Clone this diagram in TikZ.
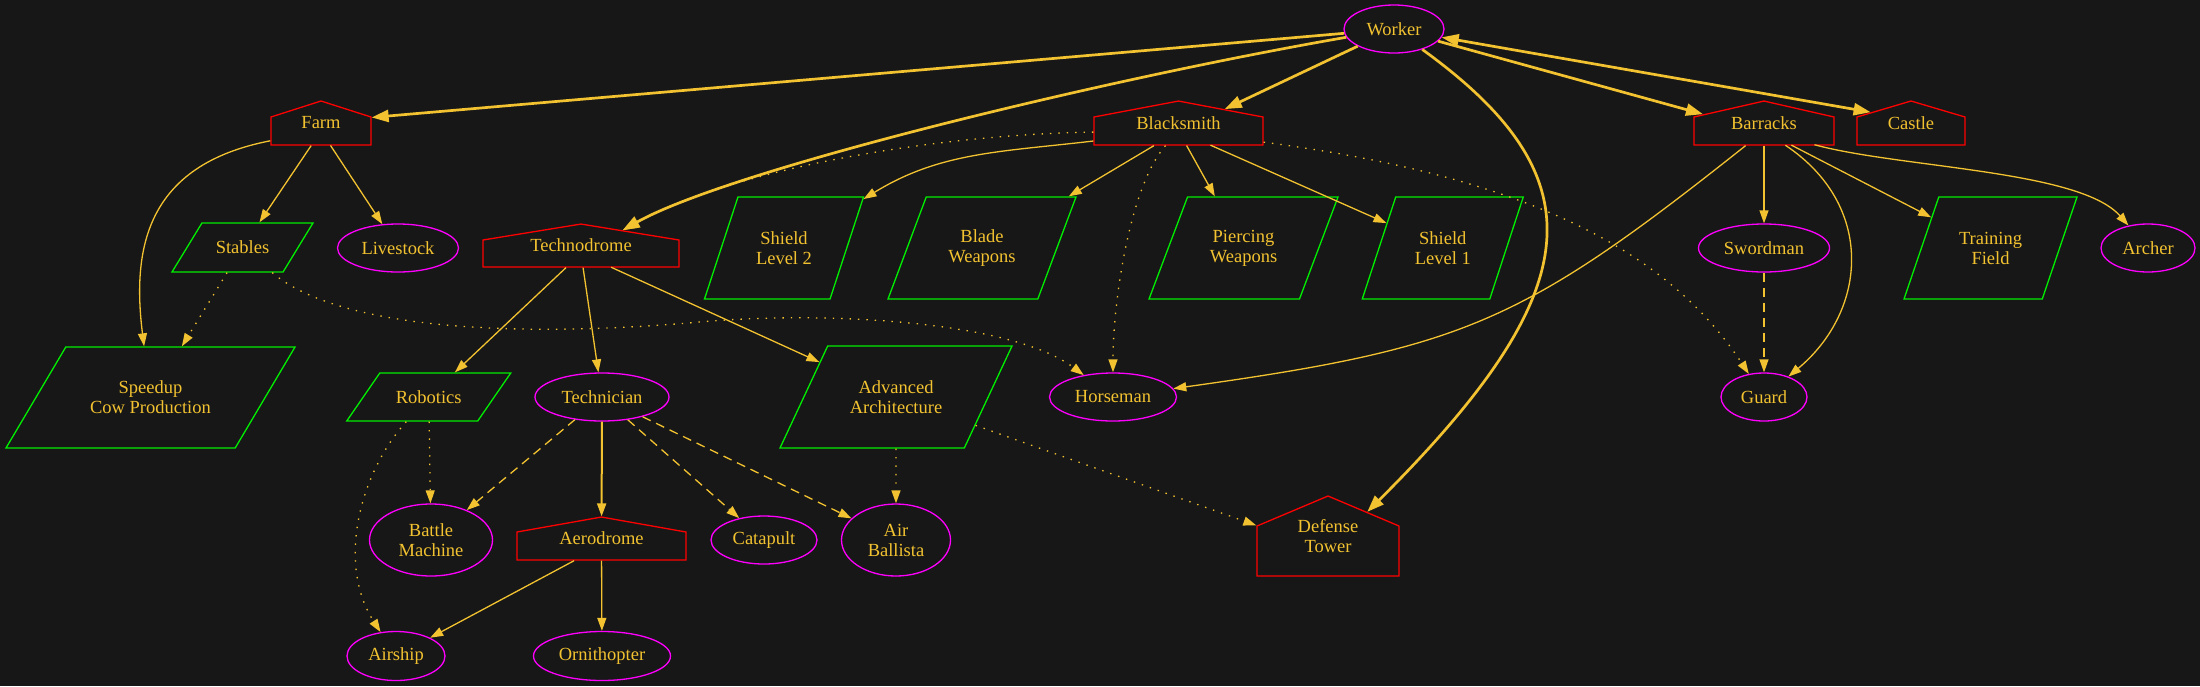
\documentclass[tikz,border=0pt]{standalone}
\usepackage{fontspec}
\setmainfont{Liberation Serif}
\usetikzlibrary{shapes.geometric,shapes.symbols,arrows.meta}
\definecolor{bg}{HTML}{171717}
\definecolor{gold}{HTML}{F2C230}
\definecolor{housered}{HTML}{FF0000}
\definecolor{unitmag}{HTML}{FF00FF}
\definecolor{upgreen}{HTML}{00EE00}
\tikzset{
  gv/.tip={Triangle[length=13pt,width=9pt]},
  gvbig/.tip={Triangle[length=17pt,width=12pt]},
  every node/.style={text=gold, font=\fontsize{18.5}{20}\selectfont, align=center, line width=1.3pt, inner sep=0pt},
  unit/.style={ellipse, draw=unitmag, minimum height=48pt},
  house/.style n args={3}{signal, signal to=north, draw=housered, minimum width=#1, minimum height=#2, signal pointer angle=#3},
  upgrade/.style n args={4}{trapezium, trapezium left angle=#3, trapezium right angle=#4, trapezium stretches body, draw=upgreen, minimum width=#1, minimum height=#2},
  link/.style={draw=gold, line width=1.3pt, -gv},
  midlink/.style={link, line width=2pt},
  heavylink/.style={link, line width=2.7pt, -gvbig},
  dotlink/.style={link, dash pattern=on 1.4pt off 7pt},
  dashlink/.style={link, dash pattern=on 9pt off 6pt},
}

\begin{document}
\begin{tikzpicture}[x=1pt, y=-1pt] % px grid, y down
\fill[bg] (0,0) rectangle (2200,686);
\useasboundingbox (0,0) rectangle (2200,686);

\node[unit, minimum width=100pt] (worker) at (1394,29) {Worker};

\node[house={100pt}{28pt}{144.5}, label={[yshift=8pt]center:Farm}] (farm) at (321,131) {};
\node[house={169pt}{28pt}{158.6}, label={[yshift=8pt]center:Blacksmith}] (blacksmith) at (1178.5,131) {};
\node[house={140pt}{28pt}{154.3}, label={[yshift=8pt]center:Barracks}] (barracks) at (1764,131) {};
\node[house={108pt}{28pt}{147}, label={[yshift=8pt]center:Castle}] (castle) at (1911,131) {};
\node[house={196pt}{27pt}{161.5}, label={[yshift=8pt]center:Technodrome}] (techno) at (581,253.5) {};
\node[house={169pt}{28pt}{159.9}, label={[yshift=7.5pt]center:Aerodrome}] (aerodrome) at (601.5,546) {};
\node[house={142pt}{50pt}{134.2}, label={[yshift=15pt, align=center]center:Defense\\Tower}] (tower) at (1328,551) {};

% slant set by text height
\node[upgrade={141pt}{49pt}{23.5}{156.5}] (stables) at (242.5,247.5) {Stables};
\node[upgrade={289pt}{101pt}{28.9}{151.1}] (speedup) at (150.5,397.5) {Speedup\\Cow Production};
\node[upgrade={159pt}{102pt}{44.6}{135.4}] (shieldtwo) at (784,248) {Shield\\Level 2};
\node[upgrade={188pt}{102pt}{43.9}{136.1}] (blade) at (982,248) {Blade\\Weapons};
\node[upgrade={189pt}{102pt}{43.2}{136.8}] (piercing) at (1243.5,248) {Piercing\\Weapons};
\node[upgrade={161pt}{102pt}{44.6}{135.4}] (shieldone) at (1442.75,248) {Shield\\Level 1};
\node[upgrade={173pt}{102pt}{43}{137}] (training) at (1990.5,248) {Training\\Field};
\node[upgrade={164pt}{48pt}{21.5}{158.5}] (robotics) at (428.75,397) {Robotics};
\node[upgrade={232pt}{102pt}{34.7}{145.3}] (advarch) at (896,397) {Advanced\\Architecture};

\node[unit, minimum width=121pt] (livestock) at (398,248) {Livestock};
\node[unit, minimum width=131pt] (swordman) at (1764,248) {Swordman};
\node[unit, minimum width=94pt] (archer) at (2148,248) {Archer};
\node[unit, minimum width=86pt] (guard) at (1764,397) {Guard};
\node[unit, minimum width=127pt] (horseman) at (1113,397) {Horseman};
\node[unit, minimum width=134pt] (technician) at (602,397) {Technician};
\node[unit, minimum width=123pt, minimum height=72pt] (battle) at (431,540) {Battle\\Machine};
\node[unit, minimum width=106pt] (catapult) at (764,540) {Catapult};
\node[unit, minimum width=109pt, minimum height=72pt] (ballista) at (896,540) {Air\\Ballista};
\node[unit, minimum width=98pt, minimum height=49pt] (airship) at (396,656) {Airship};
\node[unit, minimum width=137pt, minimum height=49pt] (ornithopter) at (602,656) {Ornithopter};

% worker
\draw[heavylink] (worker) -- (farm.15);
\draw[heavylink] (worker) .. controls (1100,80) and (730,170) .. (techno);
\draw[heavylink] (worker) -- (blacksmith);
\draw[heavylink] (worker) -- (barracks);
\draw[heavylink, gvbig-gvbig] (worker) -- (castle.155);
\draw[heavylink] (worker) .. controls (1600,178) and (1590,290) .. (tower);

% farm
\draw[link] (farm) -- (stables);
\draw[link] (farm) -- (livestock);
\draw[link] (farm) .. controls (145,165) and (132,250) .. (speedup);
\draw[dotlink] (stables) -- (speedup);
\draw[dotlink] (stables) .. controls (340,330) and (520,338) .. (700,322)
  .. controls (820,311) and (1010,320) .. (horseman);

% blacksmith
\draw[link] (blacksmith) .. controls (1000,152) and (940,152) .. (shieldtwo);
\foreach \u in {blade, piercing, shieldone}
  \draw[link] (blacksmith) -- (\u);
\draw[dotlink] (blacksmith) .. controls (950,134) and (740,165) .. (techno);
\draw[dotlink] (blacksmith) .. controls (1130.5,185) and (1113,300) .. (horseman);
\draw[dotlink] (blacksmith) .. controls (1522,176) and (1666,248) .. (guard);

% technodrome
\foreach \u in {robotics, technician, advarch}
  \draw[link] (techno) -- (\u);
\foreach \u in {battle, catapult, ballista}
  \draw[dashlink] (technician) -- (\u);
\draw[midlink] (technician) -- (aerodrome);
\draw[dotlink] (robotics) -- (battle);
\draw[dotlink] (robotics) .. controls (360.5,472) and (336,563) .. (airship);
\draw[link] (aerodrome) -- (airship);
\draw[link] (aerodrome) -- (ornithopter);
\draw[dotlink] (advarch) -- (ballista);
\draw[dotlink] (advarch) -- (tower);

% barracks
\draw[link] (barracks) .. controls (1521,324) and (1464,348) .. (horseman);
\draw[link] (barracks) -- (swordman);
\draw[link] (barracks) .. controls (1875,205) and (1868,310) .. (guard);
\draw[link] (barracks) -- (training);
\draw[link] (barracks) .. controls (1900,168) and (2080,170) .. (archer);
\draw[dashlink] (swordman) -- (guard);
\end{tikzpicture}
\end{document}
